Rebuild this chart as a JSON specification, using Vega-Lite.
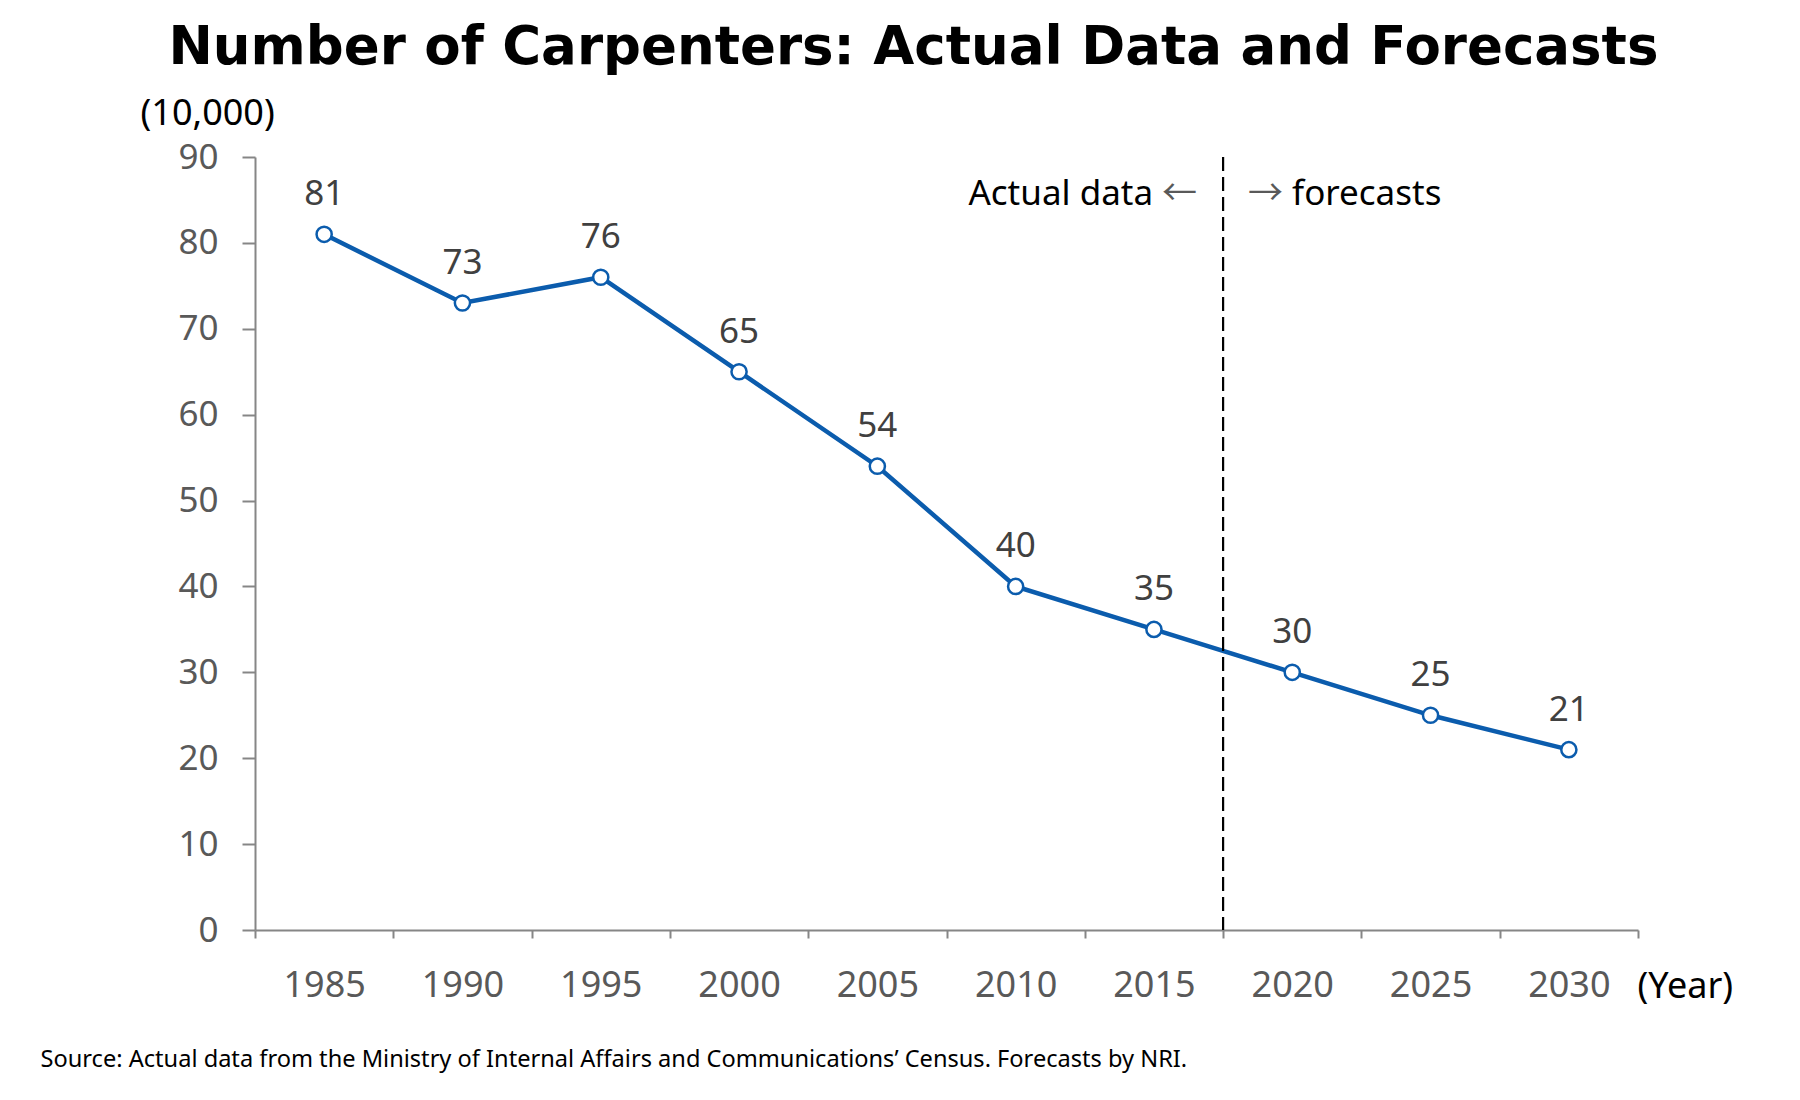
{
  "$schema": "https://vega.github.io/schema/vega-lite/v6.json",
  "width": 1383,
  "height": 773,
  "autosize": {"type": "none"},
  "padding": {"left": 255, "top": 157, "right": 162, "bottom": 170},
  "background": "white",
  "config": {"view": {"stroke": null}, "font": "Noto Sans"},
  "title": {
    "text": "Number of Carpenters: Actual Data and Forecasts",
    "font": "DejaVu Sans",
    "fontSize": 53,
    "fontWeight": "bold",
    "color": "black",
    "anchor": "middle",
    "dx": -33,
    "offset": 20
  },
  "data": {
    "values": [
      {"year": 1985, "value": 81},
      {"year": 1990, "value": 73},
      {"year": 1995, "value": 76},
      {"year": 2000, "value": 65},
      {"year": 2005, "value": 54},
      {"year": 2010, "value": 40},
      {"year": 2015, "value": 35},
      {"year": 2020, "value": 30},
      {"year": 2025, "value": 25},
      {"year": 2030, "value": 21}
    ]
  },
  "encoding": {
    "x": {
      "field": "year",
      "type": "ordinal",
      "scale": {"type": "band", "paddingInner": 0, "paddingOuter": 0},
      "axis": {
        "tickBand": "extent",
        "labelAngle": 0,
        "tickSize": 8,
        "tickWidth": 2,
        "tickColor": "#868686",
        "domainColor": "#868686",
        "domainWidth": 2,
        "labelFontSize": 36,
        "labelPadding": 30,
        "labelColor": "#595959",
        "grid": false,
        "title": "(Year)",
        "titleX": 1382,
        "titleY": 67,
        "titleAlign": "left",
        "titleBaseline": "alphabetic",
        "titleFontSize": 36,
        "titleFontWeight": "normal",
        "titleColor": "black"
      }
    }
  },
  "layer": [
    {
      "mark": {"type": "line", "color": "#0B5CAD", "strokeWidth": 4.5},
      "encoding": {
        "y": {
          "field": "value",
          "type": "quantitative",
          "scale": {"domain": [0, 90], "nice": false},
          "axis": {
            "values": [0, 10, 20, 30, 40, 50, 60, 70, 80, 90],
            "grid": false,
            "domainColor": "#868686",
            "domainWidth": 2,
            "tickColor": "#868686",
            "tickWidth": 2,
            "tickSize": 13,
            "labelFontSize": 35,
            "labelColor": "#595959",
            "labelPadding": 24,
            "title": "(10,000)",
            "titleAngle": 0,
            "titleAlign": "left",
            "titleBaseline": "middle",
            "titleX": -115,
            "titleY": -44,
            "titleFontSize": 36,
            "titleFontWeight": "normal",
            "titleColor": "black"
          }
        }
      }
    },
    {
      "mark": {"type": "rule", "color": "black", "strokeWidth": 2.2, "strokeDash": [14, 6]},
      "data": {"values": [{"boundary": 2020}]},
      "encoding": {
        "x": {"datum": 2020, "type": "ordinal", "bandPosition": 0},
        "y": {
          "datum": 90,
          "type": "quantitative",
          "axis": {
            "orient": "right",
            "domain": false,
            "ticks": false,
            "labels": false,
            "grid": false,
            "title": "Source: Actual data from the Ministry of Internal Affairs and Communications\u2019 Census. Forecasts by NRI.",
            "titleAngle": 0,
            "titleAlign": "left",
            "titleBaseline": "alphabetic",
            "titleX": -1598,
            "titleY": 909,
            "titleFontSize": 23.6,
            "titleFontWeight": "normal",
            "titleColor": "black"
          }
        },
        "y2": {"datum": 0}
      }
    },
    {
      "mark": {"type": "circle", "fill": "white", "stroke": "#0B5CAD", "strokeWidth": 2.5, "size": 230, "opacity": 1},
      "encoding": {
        "y": {"field": "value", "type": "quantitative", "axis": null}
      }
    },
    {
      "mark": {"type": "text", "fontSize": 35, "color": "#404040", "baseline": "alphabetic", "dy": -29},
      "encoding": {
        "y": {"field": "value", "type": "quantitative", "axis": null},
        "text": {"field": "value", "type": "quantitative"}
      }
    },
    {
      "mark": {"type": "text", "fontSize": 35, "color": "black", "baseline": "alphabetic", "align": "right", "dx": -70},
      "data": {"values": [{"label": "Actual data"}]},
      "encoding": {
        "x": {"datum": 2020, "type": "ordinal", "bandPosition": 0},
        "y": {"datum": 84.4, "type": "quantitative", "axis": null},
        "text": {"field": "label"}
      }
    },
    {
      "mark": {"type": "text", "font": "Noto Sans CJK JP", "fontSize": 35, "color": "#595959", "baseline": "alphabetic", "align": "right", "dx": -26},
      "data": {"values": [{"label": "\u2190"}]},
      "encoding": {
        "x": {"datum": 2020, "type": "ordinal", "bandPosition": 0},
        "y": {"datum": 84.4, "type": "quantitative", "axis": null},
        "text": {"field": "label"}
      }
    },
    {
      "mark": {"type": "text", "font": "Noto Sans CJK JP", "fontSize": 35, "color": "#595959", "baseline": "alphabetic", "align": "left", "dx": 25},
      "data": {"values": [{"label": "\u2192"}]},
      "encoding": {
        "x": {"datum": 2020, "type": "ordinal", "bandPosition": 0},
        "y": {"datum": 84.4, "type": "quantitative", "axis": null},
        "text": {"field": "label"}
      }
    },
    {
      "mark": {"type": "text", "fontSize": 35, "color": "black", "baseline": "alphabetic", "align": "left", "dx": 69},
      "data": {"values": [{"label": "forecasts"}]},
      "encoding": {
        "x": {"datum": 2020, "type": "ordinal", "bandPosition": 0},
        "y": {"datum": 84.4, "type": "quantitative", "axis": null},
        "text": {"field": "label"}
      }
    }
  ],
  "resolve": {"axis": {"y": "independent"}}
}
